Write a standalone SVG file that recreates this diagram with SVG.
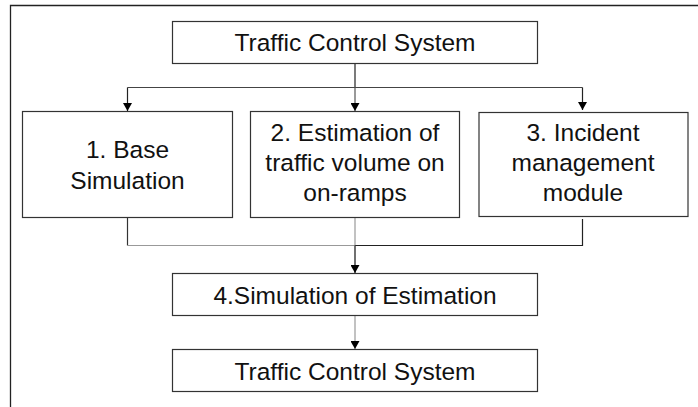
<svg xmlns="http://www.w3.org/2000/svg" width="698" height="407" viewBox="0 0 698 407">
  <defs>
    <marker id="arr" markerWidth="8" markerHeight="9" refX="8" refY="4.5" orient="auto" markerUnits="userSpaceOnUse" viewBox="0 0 8 9">
      <path d="M0,0 L8,4.5 L0,9 Z" fill="#000"/>
    </marker>
    <style>
      .box { fill: #fff; stroke: #333; stroke-width: 1.2; }
      .lbl { font-family: "Liberation Sans", Arial, sans-serif; font-size: 24.5px; fill: #111; text-anchor: middle; }
      .ln { fill: none; stroke-width: 1.2; }
    </style>
  </defs>
  <rect x="0" y="0" width="698" height="407" fill="#fff"/>
  <path d="M10.5,407 V5.5 H698" fill="none" stroke="#222" stroke-width="1.3"/>

  <g id="connectors">
    <path class="ln" stroke="#222" d="M355,63.5 V87.5"/>
    <path class="ln" stroke="#444" d="M127.5,87.5 H582.5"/>
    <path class="ln" stroke="#222" d="M127.5,87.5 V111" marker-end="url(#arr)"/>
    <path class="ln" stroke="#555" d="M355,87.5 V111" marker-end="url(#arr)"/>
    <path class="ln" stroke="#222" d="M582.5,87.5 V110" marker-end="url(#arr)"/>
    <path class="ln" stroke="#333" d="M127.5,217.5 V245.5"/>
    <path class="ln" stroke="#999" d="M127.5,245.5 H355"/>
    <path class="ln" stroke="#222" d="M355,245.5 H582.5 V219"/>
    <path class="ln" stroke="#999" d="M355,217.5 V245.5"/>
    <path class="ln" stroke="#111" d="M355,245.5 V273" marker-end="url(#arr)"/>
    <path class="ln" stroke="#999" d="M355,316 V349" marker-end="url(#arr)"/>
  </g>

  <g id="node-top">
    <rect class="box" x="172.5" y="21.5" width="365" height="42" stroke="#555"/>
    <text class="lbl" x="355" y="51">Traffic Control System</text>
  </g>
  <g id="node-1">
    <rect class="box" x="22.5" y="111.5" width="210" height="106" stroke="#222"/>
    <text class="lbl" x="127.5" y="158">1. Base</text>
    <text class="lbl" x="127.5" y="189">Simulation</text>
  </g>
  <g id="node-2">
    <rect class="box" x="250.5" y="111.5" width="209" height="106" stroke="#777"/>
    <text class="lbl" x="355" y="141">2. Estimation of</text>
    <text class="lbl" x="355" y="171">traffic volume on</text>
    <text class="lbl" x="355" y="201">on-ramps</text>
  </g>
  <g id="node-3">
    <rect class="box" x="479" y="112.5" width="209" height="104" stroke="#000" stroke-width="4"/>
    <text class="lbl" x="583" y="141">3. Incident</text>
    <text class="lbl" x="583" y="171">management</text>
    <text class="lbl" x="583" y="201">module</text>
  </g>
  <g id="node-4">
    <rect class="box" x="172.5" y="273.5" width="365" height="42"/>
    <text class="lbl" x="355" y="303.5">4.Simulation of Estimation</text>
  </g>
  <g id="node-5">
    <rect class="box" x="172.5" y="349.5" width="365" height="42"/>
    <text class="lbl" x="355" y="379.5">Traffic Control System</text>
  </g>
</svg>
